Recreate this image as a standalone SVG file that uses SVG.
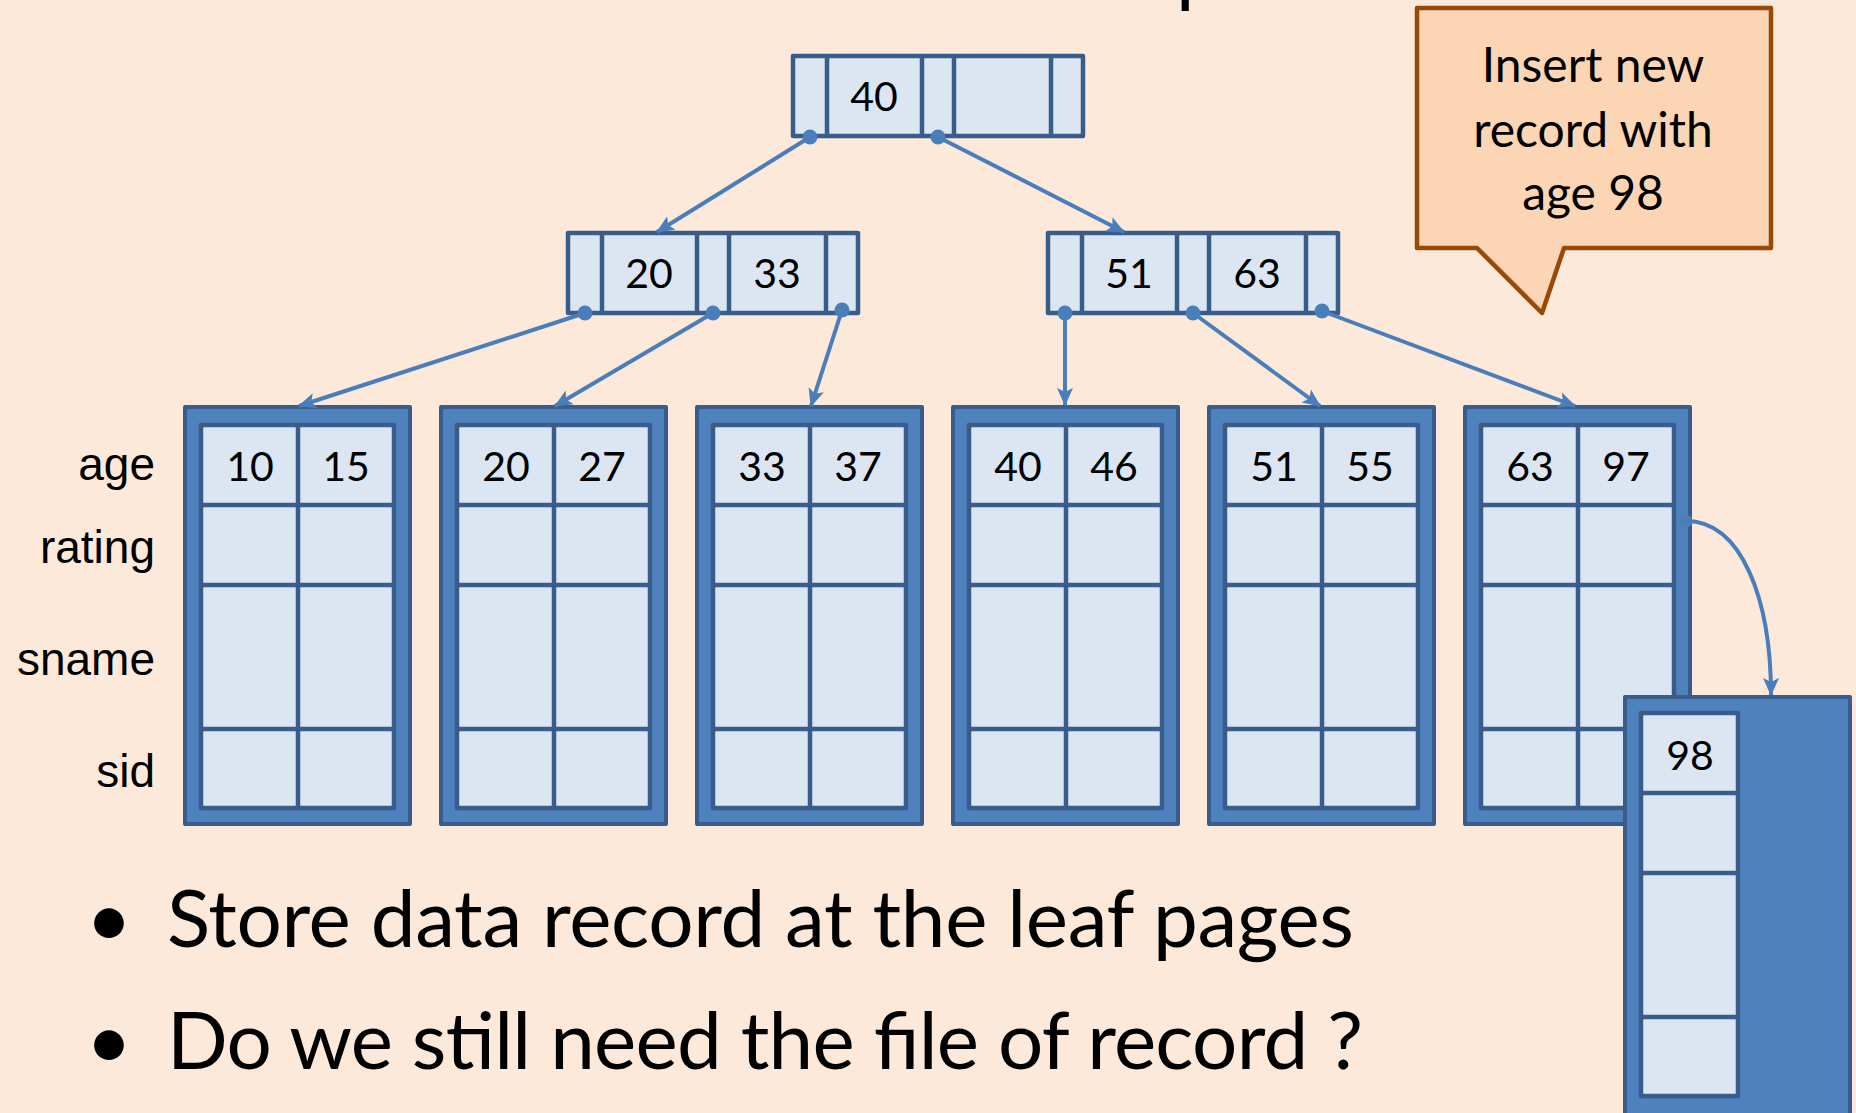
<svg xmlns="http://www.w3.org/2000/svg" width="1856" height="1113" viewBox="0 0 1856 1113">
  <defs>
    <style>
      .cell { fill: #DCE6F2; stroke: #385D8A; stroke-width: 4.5; stroke-linejoin: round; }
      .div { stroke: #385D8A; stroke-width: 4.5; }
      .page { fill: #4F81BD; stroke: #385D8A; stroke-width: 4; stroke-linejoin: round; }
      .key { font-family: Lato, "Open Sans", sans-serif; font-size: 41px; fill: #000; text-anchor: middle; }
      .field { font-family: "Liberation Sans", Arial, sans-serif; font-size: 46px; fill: #000; text-anchor: end; }
      .note { font-family: Lato, "Open Sans", sans-serif; font-size: 48px; fill: #000; text-anchor: middle; }
      .bullet { font-family: Lato, "Open Sans", sans-serif; font-size: 80px; fill: #000; }
      .link { fill: none; stroke: #4A7EBB; stroke-width: 4; marker-end: url(#tip); }
      .dot { fill: #4A7EBB; }
    </style>
    <marker id="tip" markerUnits="userSpaceOnUse" viewBox="0 0 18 18" markerWidth="18" markerHeight="18" refX="17" refY="9" orient="auto">
      <path d="M0,1 L18,9 L0,17 L4,9 Z" fill="#4A7EBB"/>
    </marker>
    <!-- index node: pointer | key | pointer | key | pointer -->
    <g id="inode">
      <rect class="cell" x="0" y="0" width="290" height="80"/>
      <line class="div" x1="34" y1="0" x2="34" y2="80"/>
      <line class="div" x1="129" y1="0" x2="129" y2="80"/>
      <line class="div" x1="161" y1="0" x2="161" y2="80"/>
      <line class="div" x1="258" y1="0" x2="258" y2="80"/>
    </g>
    <!-- leaf page holding two records of four fields -->
    <g id="leaf">
      <rect class="page" x="0" y="1" width="225" height="417"/>
      <rect class="cell" x="16" y="19" width="193" height="383"/>
      <line class="div" x1="113" y1="19" x2="113" y2="402"/>
      <line class="div" x1="16" y1="99" x2="209" y2="99"/>
      <line class="div" x1="16" y1="179" x2="209" y2="179"/>
      <line class="div" x1="16" y1="323" x2="209" y2="323"/>
    </g>
  </defs>

  <rect x="0" y="0" width="1856" height="1113" fill="#FDE9D9"/>

  <!-- slide title, mostly above the visible area -->
  <text class="bullet" x="1176" y="-3" font-size="88">p</text>

  <!-- root -->
  <g id="root">
    <use href="#inode" x="793" y="56"/>
    <text class="key" x="874" y="111">40</text>
  </g>

  <!-- second level -->
  <g id="node-20-33">
    <use href="#inode" x="568" y="233"/>
    <text class="key" x="649" y="288">20</text>
    <text class="key" x="777" y="288">33</text>
  </g>
  <g id="node-51-63">
    <use href="#inode" x="1048" y="233"/>
    <text class="key" x="1129" y="288">51</text>
    <text class="key" x="1257" y="288">63</text>
  </g>

  <!-- field names -->
  <g id="fields">
    <text class="field" x="155" y="480">age</text>
    <text class="field" x="155" y="563">rating</text>
    <text class="field" x="155" y="675">sname</text>
    <text class="field" x="155" y="787">sid</text>
  </g>

  <!-- leaf pages -->
  <g id="leaf-10-15">
    <use href="#leaf" x="185" y="406"/>
    <text class="key" x="250" y="481">10</text>
    <text class="key" x="346" y="481">15</text>
  </g>
  <g id="leaf-20-27">
    <use href="#leaf" x="441" y="406"/>
    <text class="key" x="506" y="481">20</text>
    <text class="key" x="602" y="481">27</text>
  </g>
  <g id="leaf-33-37">
    <use href="#leaf" x="697" y="406"/>
    <text class="key" x="762" y="481">33</text>
    <text class="key" x="858" y="481">37</text>
  </g>
  <g id="leaf-40-46">
    <use href="#leaf" x="953" y="406"/>
    <text class="key" x="1018" y="481">40</text>
    <text class="key" x="1114" y="481">46</text>
  </g>
  <g id="leaf-51-55">
    <use href="#leaf" x="1209" y="406"/>
    <text class="key" x="1274" y="481">51</text>
    <text class="key" x="1370" y="481">55</text>
  </g>
  <g id="leaf-63-97">
    <use href="#leaf" x="1465" y="406"/>
    <text class="key" x="1530" y="481">63</text>
    <text class="key" x="1626" y="481">97</text>
  </g>

  <!-- connectors -->
  <g id="connectors">
    <line class="link" x1="810" y1="137" x2="657" y2="232"/>
    <line class="link" x1="938" y1="137" x2="1124" y2="232"/>
    <line class="link" x1="585" y1="313" x2="299" y2="406"/>
    <line class="link" x1="713" y1="313" x2="555" y2="406"/>
    <line class="link" x1="842" y1="310" x2="811" y2="406"/>
    <line class="link" x1="1065" y1="313" x2="1065" y2="405"/>
    <line class="link" x1="1193" y1="313" x2="1320" y2="406"/>
    <line class="link" x1="1322" y1="311" x2="1575" y2="406"/>
    <path class="link" d="M1686,521 C1742,521 1771,600 1771,695"/>
    <circle class="dot" cx="810" cy="137" r="7.5"/>
    <circle class="dot" cx="938" cy="137" r="7.5"/>
    <circle class="dot" cx="585" cy="313" r="7.5"/>
    <circle class="dot" cx="713" cy="313" r="7.5"/>
    <circle class="dot" cx="842" cy="310" r="7.5"/>
    <circle class="dot" cx="1065" cy="313" r="7.5"/>
    <circle class="dot" cx="1193" cy="313" r="7.5"/>
    <circle class="dot" cx="1322" cy="311" r="7.5"/>
    <circle class="dot" cx="1686" cy="521" r="6.5"/>
  </g>

  <!-- newly allocated leaf page -->
  <g id="leaf-98">
    <rect class="page" x="1625" y="697" width="225" height="430"/>
    <rect class="cell" x="1641" y="713" width="97" height="383"/>
    <line class="div" x1="1641" y1="793" x2="1738" y2="793"/>
    <line class="div" x1="1641" y1="873" x2="1738" y2="873"/>
    <line class="div" x1="1641" y1="1017" x2="1738" y2="1017"/>
    <text class="key" x="1690" y="770">98</text>
  </g>

  <!-- callout -->
  <g id="callout">
    <path d="M1417,8 H1771 V248 H1564 L1542,313 L1477,248 H1417 Z" fill="#FCD5B5" stroke="#984807" stroke-width="4.5" stroke-linejoin="round"/>
    <text class="note" x="1593" y="82">Insert new</text>
    <text class="note" x="1593" y="147">record with</text>
    <text class="note" x="1593" y="210">age 98</text>
  </g>

  <!-- bullet points -->
  <g id="bullets">
    <text class="bullet" x="109" y="947" text-anchor="middle">•</text>
    <text class="bullet" x="167" y="947" textLength="1187" lengthAdjust="spacing">Store data record at the leaf pages</text>
    <text class="bullet" x="109" y="1069" text-anchor="middle">•</text>
    <text class="bullet" x="167" y="1069" textLength="1196" lengthAdjust="spacing">Do we still need the file of record ?</text>
  </g>
</svg>
